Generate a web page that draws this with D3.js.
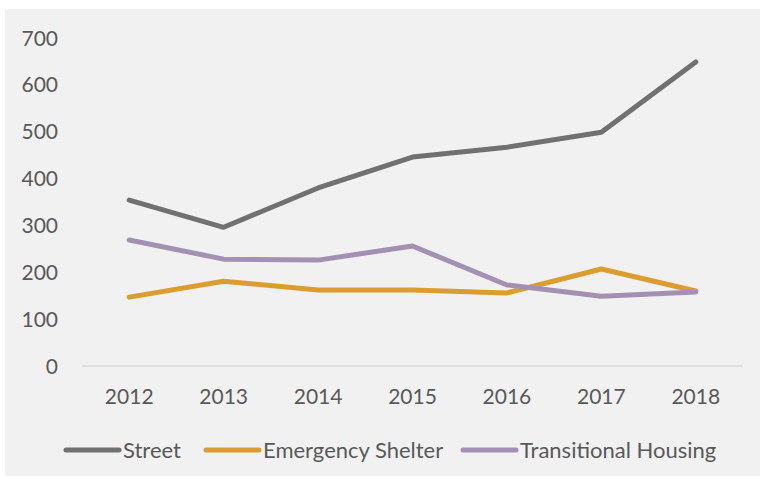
<!DOCTYPE html>
<html><head><meta charset="utf-8">
<script src="https://cdn.jsdelivr.net/npm/d3@7"></script>
<style>
html,body{margin:0;padding:0;background:#fff;}
svg{display:block;}
text{font-family:Lato,"Open Sans",sans-serif;fill:#595959;}
</style></head>
<body>
<svg id="chart" width="765" height="479"></svg>
<script>
const years = ["2012","2013","2014","2015","2016","2017","2018"];
const street = [354, 296, 380, 446, 467, 499, 649];
const emergencyShelter = [147, 181, 162, 162, 156, 207, 160];
const transitionalHousing = [269, 228, 226, 256, 173, 149, 158];
const seriesNames = ["Street","Emergency Shelter","Transitional Housing"];
const seriesColors = ["#717171","#DB9D2E","#A391B2"];
const yTicks = [0,100,200,300,400,500,600,700];

const series = [street, emergencyShelter, transitionalHousing].map((v,i)=>({name:seriesNames[i],color:seriesColors[i],values:v}));

const svg = d3.select("#chart");
svg.append("rect").attr("x",5).attr("y",9).attr("width",755).attr("height",467).attr("fill","#f1f1f1");

const x = d3.scaleBand().domain(years).range([82,743]);
const y = d3.scaleLinear().domain([0,700]).range([366,38]);

// axis line
svg.append("line").attr("x1",82).attr("x2",743).attr("y1",y(0)).attr("y2",y(0))
  .attr("stroke","#d9d9d9").attr("stroke-width",1.5);

// y labels
svg.append("g").selectAll("text").data(yTicks).join("text")
  .attr("x",58).attr("y",d=>y(d)).attr("dy","0.36em").attr("text-anchor","end")
  .attr("font-size",21).text(d=>d);

// x labels
svg.append("g").selectAll("text").data(years).join("text")
  .attr("x",d=>x(d)+x.bandwidth()/2).attr("y",404).attr("text-anchor","middle")
  .attr("font-size",21).text(d=>d);

const line = d3.line().x((d,i)=>x(years[i])+x.bandwidth()/2).y(d=>y(d));
svg.append("g").selectAll("path").data(series).join("path")
  .attr("d",d=>line(d.values)).attr("fill","none").attr("stroke",d=>d.color)
  .attr("stroke-width",5).attr("stroke-linecap","round").attr("stroke-linejoin","round");

// legend
const legendX = [66, 206, 463];
const lg = svg.append("g").selectAll("g").data(series).join("g")
  .attr("transform",(d,i)=>`translate(${legendX[i]},450)`);
lg.append("line").attr("x1",0).attr("x2",53).attr("y1",0).attr("y2",0)
  .attr("stroke",d=>d.color).attr("stroke-width",5).attr("stroke-linecap","round");
lg.append("text").attr("x",57).attr("y",0).attr("dy","0.36em").attr("font-size",22).text(d=>d.name);
</script>
</body></html>
